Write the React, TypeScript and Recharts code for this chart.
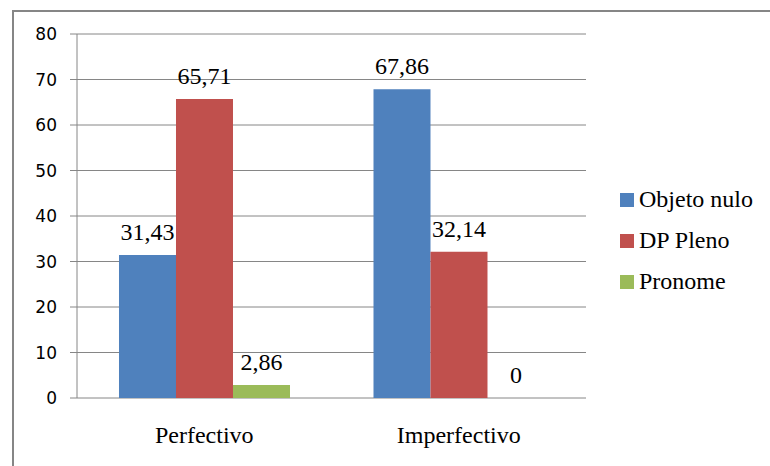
import React from 'react';
import { BarChart, Bar, XAxis, YAxis, CartesianGrid, Legend, LabelList } from 'recharts';

const categories = ['Perfectivo', 'Imperfectivo'];
const objetoNulo = [31.43, 67.86];
const dpPleno = [65.71, 32.14];
const pronome = [2.86, 0];
const yTicks = [0, 10, 20, 30, 40, 50, 60, 70, 80];
const edgeTicks = [0, 1, 2];

const series = [
  { key: 'objetoNulo', name: 'Objeto nulo', color: '#4F81BD' },
  { key: 'dpPleno', name: 'DP Pleno', color: '#C0504D' },
  { key: 'pronome', name: 'Pronome', color: '#9BBB59' },
];

const data = categories.map((name, i) => ({
  name,
  objetoNulo: objetoNulo[i],
  dpPleno: dpPleno[i],
  pronome: pronome[i],
}));

const serif = '"Liberation Serif", serif';
const axisGray = '#868686';

// fonts set through props were not sticking, so force them with a stylesheet
const css = `
#root .recharts-wrapper .recharts-xAxis .recharts-cartesian-axis-tick-value,
#root .recharts-wrapper .recharts-xAxis .recharts-cartesian-axis-tick-value tspan,
#root .recharts-wrapper .recharts-label-list text,
#root .recharts-wrapper .recharts-label-list tspan,
#root .recharts-wrapper .recharts-label,
#root .recharts-wrapper .recharts-label tspan,
#root .recharts-legend-wrapper,
#root .recharts-legend-wrapper * { font-family: "Liberation Serif", serif !important; }
#root .recharts-wrapper .recharts-yAxis .recharts-cartesian-axis-tick-value,
#root .recharts-wrapper .recharts-yAxis .recharts-cartesian-axis-tick-value tspan { font-family: "DejaVu Sans", sans-serif !important; }
`;

const fmt = (v: any) => String(v).replace('.', ',');

// keep zero-value bars in the layout so their "0" label still shows
const keepZero = (v: any) => (v === 0 ? 0.01 : 0);

function LegendBox() {
  return (
    <div style={{ fontFamily: serif, fontSize: 24, color: '#000' }}>
      {series.map((s) => (
        <div key={s.key} style={{ height: 41, display: 'flex', alignItems: 'center' }}>
          <span style={{ width: 14, height: 14, background: s.color, display: 'inline-block', marginRight: 5 }} />
          <span>{s.name}</span>
        </div>
      ))}
    </div>
  );
}

export default function App() {
  return (
    <div style={{ position: 'absolute', left: 0, top: 0, width: 770, height: 466, overflow: 'hidden', background: '#fff' }}>
      <style>{css}</style>
      <div
        style={{
          position: 'absolute',
          left: 12,
          top: 10,
          width: 800,
          height: 500,
          border: `2px solid ${axisGray}`,
        }}
      />
      <BarChart
        width={770}
        height={466}
        data={data}
        margin={{ top: 34, right: 184, bottom: 0, left: 0 }}
        barCategoryGap="16.5%"
        barGap={0}
        style={{ position: 'absolute', left: 0, top: 0 }}
      >
        <CartesianGrid vertical={false} stroke={axisGray} />
        <XAxis
          dataKey="name"
          height={68}
          axisLine={false}
          tickLine={false}
          tickSize={0}
          tickMargin={28}
          tick={{ fontFamily: serif, fontSize: 24, fill: '#000' }}
        />
        <XAxis
          xAxisId="edges"
          type="number"
          domain={[0, 2]}
          ticks={edgeTicks}
          allowDataOverflow
          height={0}
          tick={false}
          tickSize={7}
          axisLine={{ stroke: axisGray }}
          tickLine={{ stroke: axisGray }}
        />
        <YAxis
          width={77}
          domain={[0, 80]}
          ticks={yTicks}
          interval={0}
          tickSize={7}
          tickMargin={13}
          axisLine={{ stroke: axisGray }}
          tickLine={{ stroke: axisGray }}
          tick={{ fontFamily: '"DejaVu Sans", sans-serif', fontSize: 17, fill: '#000' }}
        />
        <Legend
          layout="vertical"
          align="center"
          verticalAlign="middle"
          content={() => <LegendBox />}
          wrapperStyle={{ left: 620, top: 179, width: 150 }}
        />
        {series.map((s) => (
          <Bar
            key={s.key}
            dataKey={s.key}
            name={s.name}
            fill={s.color}
            minPointSize={keepZero}
            isAnimationActive={false}
          >
            <LabelList
              dataKey={s.key}
              position="top"
              offset={15}
              formatter={fmt}
              fontFamily={serif}
              fontSize={24}
              fill="#000"
            />
          </Bar>
        ))}
      </BarChart>
    </div>
  );
}
